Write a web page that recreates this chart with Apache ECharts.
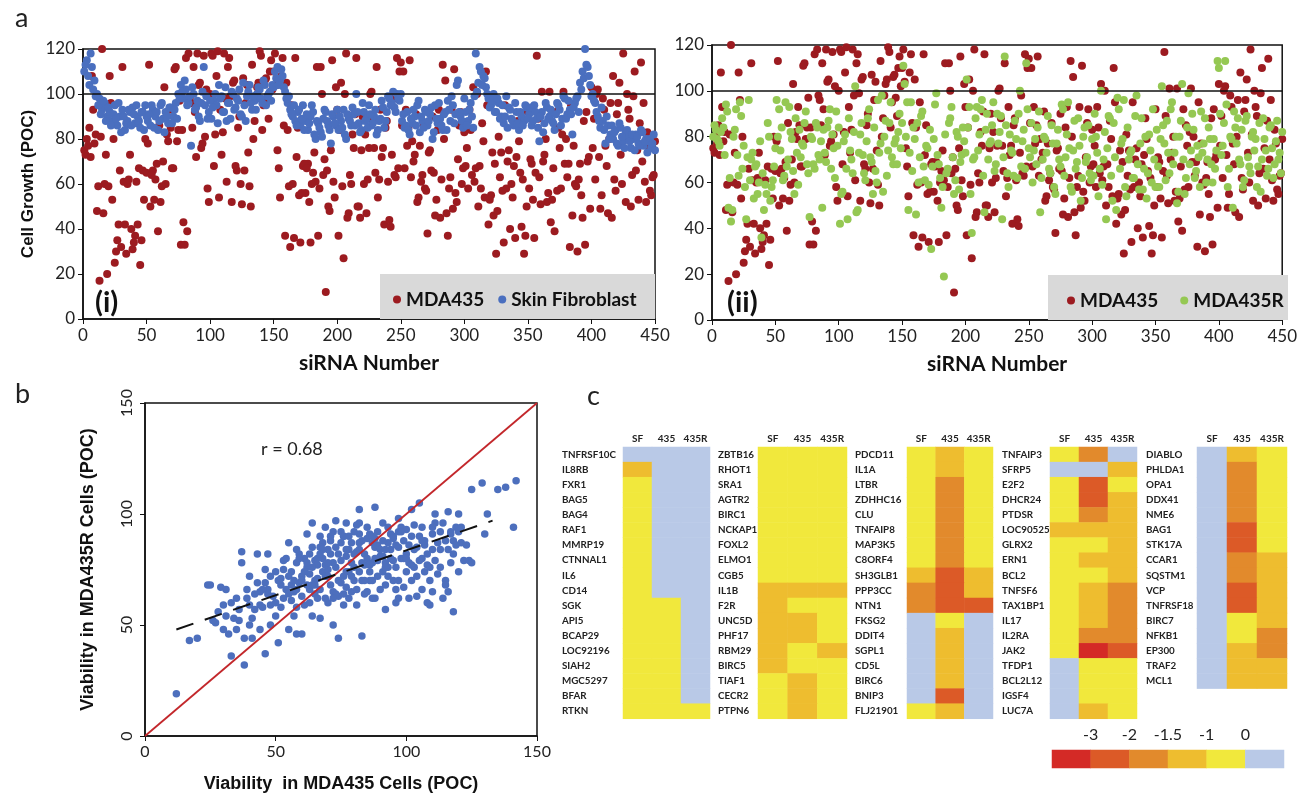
<!DOCTYPE html>
<html>
<head>
<meta charset="utf-8">
<title>siRNA viability screen</title>
<script src="https://cdn.jsdelivr.net/npm/echarts/dist/echarts.min.js"></script>
<style>
  html, body { margin: 0; padding: 0; background: #fff; }
  #chart { width: 1300px; height: 795px; }
</style>
</head>
<body>
<div id="chart"></div>
<script>
// --- panel a: cell growth per siRNA ---
// *Odd arrays hold siRNA 1, 3, 5 ... 449, *Even arrays hold siRNA 2, 4 ... 450
const mda435Odd = [
    75, 80, 85, 108, 78, 48, 17, 120, 60, 20, 108, 53, 25, 35, 66, 112, 42, 60, 73, 31, 37, 42, 24, 66, 80,
    78, 50, 66, 62, 39, 52, 70, 60, 79, 85, 67, 112, 84, 33, 43, 116, 118, 96, 112, 72, 104, 76, 117, 102, 52,
    118, 68, 108, 54, 73, 118, 61, 116, 52, 106, 66, 90, 51, 66, 104, 59, 113, 88, 103, 119, 84, 106, 97, 110, 102,
    118, 75, 54, 116, 37, 84, 32, 60, 116, 85, 34, 68, 56, 69, 34, 65, 61, 37, 112, 64, 12, 50, 75, 61, 103,
    37, 105, 27, 118, 47, 60, 76, 116, 50, 75, 60, 47, 76, 101, 76, 112, 62, 72, 42, 88, 44, 73, 64, 116, 110,
    86, 67, 77, 115, 79, 73, 52, 77, 64, 58, 38, 75, 90, 46, 84, 45, 113, 106, 37, 63, 49, 56, 71, 92, 67,
    68, 58, 84, 103, 67, 50, 58, 79, 110, 42, 55, 46, 29, 81, 74, 34, 58, 75, 60, 68, 72, 79, 41, 29, 50,
    58, 69, 36, 117, 63, 101, 73, 52, 101, 53, 39, 57, 76, 82, 69, 63, 32, 46, 60, 30, 69, 45, 33, 70, 49,
    76, 62, 102, 49, 98, 77, 47, 96, 108, 57, 96, 73, 118, 52, 93, 50, 99, 66, 53, 114, 96, 52, 77, 55, 64
];
const mda435Even = [
    73, 77, 72, 93, 82, 59, 81, 47, 73, 59, 96, 80, 30, 42, 32, 61, 29, 62, 40, 34, 61, 67, 35, 53, 65,
    113, 64, 53, 69, 86, 59, 103, 82, 93, 67, 111, 79, 97, 84, 33, 39, 98, 85, 92, 118, 105, 78, 81, 58, 100,
    117, 82, 119, 93, 83, 98, 112, 99, 105, 68, 85, 60, 107, 96, 74, 50, 80, 98, 105, 117, 95, 107, 89, 115, 110,
    104, 67, 108, 86, 105, 59, 95, 36, 72, 55, 56, 69, 67, 52, 60, 74, 112, 58, 100, 71, 66, 48, 115, 54, 93,
    84, 59, 100, 45, 64, 82, 91, 50, 45, 90, 82, 62, 100, 88, 65, 54, 93, 76, 85, 61, 41, 98, 63, 67, 114,
    110, 93, 85, 63, 70, 91, 54, 61, 86, 57, 74, 66, 65, 53, 93, 62, 80, 47, 58, 93, 111, 52, 86, 60, 83,
    76, 93, 64, 61, 100, 68, 87, 54, 95, 53, 74, 69, 48, 63, 57, 95, 70, 40, 54, 36, 88, 65, 62, 37, 92,
    71, 53, 65, 89, 51, 70, 80, 56, 43, 67, 92, 85, 58, 101, 80, 69, 95, 77, 59, 62, 55, 88, 92, 72, 103,
    89, 100, 72, 55, 93, 68, 80, 45, 62, 91, 105, 60, 81, 100, 89, 64, 110, 75, 87, 70, 61, 83, 57, 63, 79
];
const skinFibroblastOdd = [
    110, 115, 104, 112, 106, 100, 98, 93, 96, 90, 92, 88, 95, 86, 90, 93, 84, 88, 92, 94, 87, 90, 85, 92, 95,
    88, 86, 93, 90, 84, 95, 89, 92, 87, 94, 90, 96, 100, 104, 98, 102, 96, 77, 100, 94, 90, 96, 112, 99, 92,
    89, 97, 95, 104, 99, 92, 88, 96, 101, 93, 98, 102, 90, 95, 99, 104, 93, 97, 100, 102, 96, 104, 99, 101, 104,
    110, 112, 106, 108, 101, 96, 93, 90, 88, 92, 86, 95, 88, 84, 90, 92, 80, 87, 83, 89, 92, 86, 78, 90, 86,
    84, 88, 93, 80, 89, 86, 91, 100, 87, 84, 92, 89, 95, 86, 90, 82, 88, 97, 85, 92, 98, 96, 94, 100, 97,
    88, 85, 92, 82, 87, 90, 95, 83, 88, 93, 86, 91, 80, 95, 87, 89, 84, 92, 97, 88, 95, 91, 106, 90, 85,
    92, 88, 96, 85, 118, 105, 110, 108, 103, 98, 95, 100, 92, 96, 90, 87, 99, 94, 89, 86, 92, 84, 90, 88, 94,
    91, 86, 95, 89, 79, 92, 87, 94, 90, 88, 84, 96, 93, 89, 98, 91, 93, 82, 96, 99, 105, 110, 120, 112, 104,
    100, 96, 90, 85, 88, 78, 86, 82, 80, 84, 77, 85, 79, 83, 81, 76, 80, 82, 78, 84, 77, 80, 79, 76, 82
];
const skinFibroblastEven = [
    113, 108, 118, 102, 99, 95, 91, 97, 88, 94, 86, 91, 89, 96, 83, 90, 87, 93, 86, 91, 95, 88, 92, 84, 90,
    91, 95, 85, 92, 88, 96, 83, 90, 94, 87, 93, 89, 98, 101, 106, 95, 99, 103, 93, 97, 88, 101, 95, 89, 97,
    94, 100, 87, 98, 92, 103, 96, 89, 100, 94, 97, 91, 105, 88, 101, 96, 99, 93, 103, 98, 106, 95, 100, 97, 103,
    107, 104, 111, 103, 98, 99, 91, 95, 86, 93, 89, 84, 91, 87, 95, 82, 88, 85, 81, 93, 88, 84, 91, 87, 93,
    90, 85, 82, 91, 88, 94, 86, 92, 83, 96, 88, 85, 91, 87, 93, 84, 89, 94, 88, 99, 95, 101, 92, 98, 100,
    91, 86, 84, 89, 93, 86, 97, 90, 85, 92, 88, 94, 83, 89, 96, 86, 91, 84, 93, 99, 87, 104, 92, 88, 98,
    86, 93, 90, 99, 101, 112, 104, 107, 100, 94, 97, 92, 98, 89, 95, 90, 85, 93, 88, 96, 87, 92, 86, 95, 89,
    94, 88, 92, 85, 90, 83, 96, 89, 93, 87, 91, 95, 86, 99, 89, 97, 91, 94, 98, 92, 102, 107, 113, 108, 99,
    97, 92, 88, 94, 84, 90, 80, 86, 83, 78, 87, 81, 76, 84, 79, 82, 75, 81, 77, 83, 79, 74, 80, 78, 75
];
const mda435ROdd = [
    80, 83, 78, 82, 84, 94, 49, 43, 80, 92, 63, 89, 76, 44, 96, 70, 53, 68, 60, 36, 48, 55, 80, 58, 67,
    96, 92, 84, 63, 67, 93, 79, 55, 73, 83, 77, 86, 68, 45, 79, 66, 84, 70, 49, 73, 84, 92, 81, 62, 76,
    42, 56, 81, 44, 74, 64, 102, 48, 81, 72, 61, 88, 71, 55, 65, 96, 77, 56, 87, 74, 95, 68, 79, 82, 75,
    111, 80, 48, 95, 84, 46, 60, 89, 67, 76, 59, 31, 79, 99, 68, 49, 19, 64, 86, 93, 55, 82, 57, 72, 78,
    105, 93, 38, 71, 93, 81, 96, 47, 90, 77, 85, 65, 90, 82, 44, 115, 64, 81, 73, 87, 62, 100, 78, 66, 92,
    71, 60, 79, 84, 47, 70, 79, 89, 64, 77, 55, 83, 67, 92, 71, 95, 58, 74, 66, 88, 52, 80, 69, 85, 61,
    63, 80, 54, 100, 70, 44, 89, 63, 86, 48, 92, 77, 96, 54, 70, 74, 62, 98, 57, 88, 66, 53, 81, 60, 70,
    83, 58, 102, 77, 87, 64, 95, 73, 51, 80, 103, 55, 84, 68, 90, 62, 76, 58, 73, 88, 70, 79, 60, 66, 113,
    90, 76, 113, 58, 80, 49, 84, 88, 68, 58, 87, 71, 64, 82, 79, 67, 56, 88, 74, 66, 85, 62, 78, 70, 64
];
const mda435REven = [
    85, 79, 76, 88, 72, 91, 62, 48, 83, 72, 95, 66, 58, 71, 61, 73, 67, 55, 78, 64, 59, 86, 52, 61, 75,
    80, 74, 61, 95, 70, 82, 65, 88, 59, 71, 76, 91, 64, 80, 68, 86, 72, 78, 83, 69, 87, 66, 75, 91, 84,
    55, 78, 66, 88, 70, 82, 47, 73, 86, 64, 78, 92, 69, 84, 60, 73, 98, 80, 63, 86, 71, 77, 68, 90, 86,
    103, 95, 73, 65, 79, 86, 71, 91, 61, 75, 83, 67, 94, 72, 62, 58, 81, 66, 88, 71, 61, 80, 69, 84, 73,
    84, 55, 70, 88, 74, 92, 63, 83, 70, 78, 95, 68, 77, 89, 71, 85, 58, 74, 63, 79, 90, 67, 83, 112, 75,
    86, 74, 68, 91, 62, 80, 73, 66, 85, 58, 77, 70, 94, 63, 81, 75, 56, 87, 69, 76, 62, 84, 71, 64, 79,
    90, 73, 66, 59, 82, 75, 88, 52, 71, 97, 66, 79, 58, 84, 73, 62, 89, 68, 77, 57, 80, 64, 74, 92, 58,
    67, 79, 85, 61, 73, 92, 68, 80, 56, 87, 70, 62, 99, 74, 83, 65, 71, 91, 77, 60, 84, 68, 79, 74, 110,
    72, 86, 94, 66, 79, 91, 77, 70, 83, 61, 89, 67, 80, 74, 58, 86, 70, 79, 63, 84, 75, 68, 87, 73, 82
];
const controlLevel = 100;

// --- panel b: viability MDA435 (x) vs MDA435R (y) ---
const viab435 = [
    12, 17, 20, 24, 25, 27, 29, 30, 30, 32, 33, 31, 34, 35, 35, 37, 37, 38, 38, 39, 40, 41, 41, 43, 44, 44, 46, 47, 46, 48,
    48, 50, 50, 51, 52, 53, 53, 55, 55, 56, 57, 57, 58, 59, 59, 60, 61, 62, 62, 63, 64, 64, 65, 66, 66, 67, 68, 68, 69, 70,
    71, 71, 72, 73, 73, 74, 75, 75, 76, 77, 77, 78, 79, 79, 80, 81, 82, 82, 83, 83, 84, 85, 86, 86, 87, 88, 88, 89, 91, 91,
    92, 93, 94, 95, 95, 96, 97, 98, 100, 100, 101, 102, 102, 103, 104, 105, 106, 106, 107, 108, 109, 109, 110, 111, 111, 112, 113, 114, 115, 115,
    116, 117, 118, 118, 119, 120, 120, 121, 122, 124, 125, 129, 130, 131, 135, 138, 141, 142,
    33, 36, 39, 42, 45, 47, 49, 51, 52, 54, 55, 56, 58, 58, 60, 60, 61, 62, 63, 63, 64, 65, 65, 66, 67, 67, 68, 69, 69, 70,
    70, 71, 72, 72, 73, 74, 74, 75, 76, 76, 77, 78, 78, 79, 80, 80, 81, 81, 82, 83, 84, 84, 85, 85, 86, 87, 87, 88, 89, 89,
    90, 90, 91, 92, 93, 93, 94, 95, 96, 97, 98, 99, 99, 100, 101, 103, 104, 105, 107, 108, 110, 112, 113, 116, 118, 120, 123, 92, 96, 104,
    108, 114, 116, 58, 54, 46, 42, 40, 36, 44, 26, 31, 28, 125, 117, 110, 102, 97, 106,
    45, 48, 50, 53, 56, 59, 61, 63, 65, 67, 69, 71, 73, 75, 77, 79, 81, 83, 85, 87, 89, 91, 93, 95, 97, 99, 101, 103, 105, 107,
    109, 111, 113, 115, 117, 119, 121, 66, 70, 74, 78, 82, 86, 90, 94, 98, 102, 106, 110, 60, 64, 68, 72, 76, 80, 84, 88, 92, 96, 100,
    55, 57, 62, 67, 72, 77, 82, 87, 92, 97, 40, 43, 47, 52, 58, 64, 70, 76, 82, 88
];
const viab435R = [
    19, 43, 44, 68, 68, 51, 67, 59, 48, 46, 36, 54, 53, 62, 48, 83, 78, 32, 44, 66, 59, 53, 44, 82, 65, 59, 37, 82, 69, 59,
    50, 74, 54, 42, 68, 79, 62, 48, 87, 74, 65, 54, 46, 82, 69, 46, 59, 91, 76, 66, 54, 96, 79, 62, 71, 53, 87, 74, 94, 60,
    82, 68, 50, 97, 76, 44, 87, 69, 59, 81, 96, 74, 65, 87, 76, 59, 91, 102, 45, 70, 82, 65, 91, 74, 87, 103, 62, 79, 96, 74,
    68, 87, 91, 79, 70, 66, 85, 94, 74, 82, 62, 102, 90, 76, 85, 105, 66, 94, 74, 82, 59, 70, 91, 100, 79, 87, 76, 96, 70, 68,
    101, 91, 56, 82, 94, 74, 100, 87, 79, 79, 111, 114, 91, 100, 111, 112, 94, 115,
    60, 57, 62, 64, 58, 66, 63, 70, 58, 66, 72, 61, 78, 66, 72, 63, 80, 68, 73, 60, 85, 70, 64, 77, 66, 90, 80, 62, 72, 84,
    75, 90, 78, 65, 85, 70, 63, 79, 90, 72, 67, 84, 62, 78, 70, 92, 83, 66, 74, 88, 77, 64, 80, 94, 70, 78, 62, 85, 72, 92,
    81, 66, 88, 78, 94, 72, 84, 90, 76, 70, 80, 88, 67, 93, 78, 84, 72, 90, 86, 77, 84, 73, 92, 84, 88, 92, 86, 57, 60, 63,
    60, 62, 65, 84, 80, 75, 57, 50, 52, 48, 52, 66, 56, 78, 78, 65, 70, 62, 80,
    66, 72, 60, 75, 68, 80, 74, 82, 68, 85, 77, 88, 64, 92, 84, 72, 95, 78, 89, 70, 86, 81, 76, 89, 92, 80, 86, 95, 79, 88,
    76, 96, 84, 88, 92, 86, 94, 80, 72, 82, 90, 84, 77, 84, 80, 92, 77, 88, 94, 70, 76, 84, 62, 90, 82, 70, 89, 76, 86, 80,
    64, 70, 78, 82, 92, 74, 87, 90, 84, 98, 72, 69, 64, 71, 58, 68, 78, 64, 96, 80
];
const identityLine = [0, 150];
const fitX = [12, 133];
const fitY = [48, 97];

// --- panel c: heat map classes, 0 = below -3 ... 4 = -1 to 0, 5 = above 0 ---
const cellLines = ['SF', '435', '435R'];
const block1Genes = ['TNFRSF10C', 'IL8RB', 'FXR1', 'BAG5', 'BAG4', 'RAF1', 'MMRP19', 'CTNNAL1', 'IL6', 'CD14', 'SGK', 'API5', 'BCAP29', 'LOC92196', 'SIAH2', 'MGC5297', 'BFAR', 'RTKN'];
const block1Levels = [[5, 5, 5], [3, 5, 5], [4, 5, 5], [4, 5, 5], [4, 5, 5], [4, 5, 5], [4, 5, 5], [4, 5, 5], [4, 5, 5], [4, 5, 5],
    [4, 4, 5], [4, 4, 5], [4, 4, 5], [4, 4, 5], [4, 4, 5], [4, 4, 5], [4, 4, 5], [4, 4, 4]];
const block2Genes = ['ZBTB16', 'RHOT1', 'SRA1', 'AGTR2', 'BIRC1', 'NCKAP1', 'FOXL2', 'ELMO1', 'CGB5', 'IL1B', 'F2R', 'UNC5D', 'PHF17', 'RBM29', 'BIRC5', 'TIAF1', 'CECR2', 'PTPN6'];
const block2Levels = [[4, 4, 4], [4, 4, 4], [4, 4, 4], [4, 4, 4], [4, 4, 4], [4, 4, 4], [4, 4, 4], [4, 4, 4], [4, 4, 4],
    [3, 3, 3], [3, 4, 4], [3, 3, 4], [3, 3, 4], [3, 4, 3], [3, 4, 4], [4, 3, 4], [4, 3, 4], [4, 3, 4]];
const block3Genes = ['PDCD11', 'IL1A', 'LTBR', 'ZDHHC16', 'CLU', 'TNFAIP8', 'MAP3K5', 'C8ORF4', 'SH3GLB1', 'PPP3CC', 'NTN1', 'FKSG2', 'DDIT4', 'SGPL1', 'CD5L', 'BIRC6', 'BNIP3', 'FLJ21901'];
const block3Levels = [[4, 3, 4], [4, 3, 4], [4, 2, 4], [4, 2, 4], [4, 2, 4], [4, 2, 4], [4, 2, 4], [4, 2, 4], [3, 1, 3],
    [2, 1, 3], [2, 1, 1], [5, 4, 5], [5, 3, 5], [5, 3, 5], [5, 3, 5], [5, 3, 5], [5, 1, 5], [4, 3, 5]];
const block4Genes = ['TNFAIP3', 'SFRP5', 'E2F2', 'DHCR24', 'PTDSR', 'LOC90525', 'GLRX2', 'ERN1', 'BCL2', 'TNFSF6', 'TAX1BP1', 'IL17', 'IL2RA', 'JAK2', 'TFDP1', 'BCL2L12', 'IGSF4', 'LUC7A'];
const block4Levels = [[4, 2, 5], [5, 5, 3], [4, 1, 4], [4, 1, 3], [4, 2, 3], [3, 3, 3], [4, 4, 3], [4, 3, 3], [4, 4, 3],
    [4, 3, 2], [4, 3, 2], [4, 3, 2], [4, 2, 2], [4, 0, 1], [5, 4, 4], [5, 4, 4], [5, 4, 4], [5, 3, 4]];
const block5Genes = ['DIABLO', 'PHLDA1', 'OPA1', 'DDX41', 'NME6', 'BAG1', 'STK17A', 'CCAR1', 'SQSTM1', 'VCP', 'TNFRSF18', 'BIRC7', 'NFKB1', 'EP300', 'TRAF2', 'MCL1'];
const block5Levels = [[5, 3, 4], [5, 2, 4], [5, 2, 4], [5, 2, 4], [5, 2, 4], [5, 1, 4], [5, 1, 4], [5, 2, 3], [5, 2, 3],
    [5, 1, 3], [5, 1, 3], [5, 4, 3], [5, 4, 2], [5, 3, 2], [5, 3, 3], [5, 3, 3]];
const legendLevels = [0, 1, 2, 3, 4, 5];
const legendTickLabels = ['', '-3', '-2', '-1.5', '-1', '0', ''];

const levelColors = ['#d42a26', '#dc5a27', '#e28a2c', '#eebd2f', '#f1e83c', '#b9c9e7'];
const FONT = 'Lato, "Open Sans", sans-serif';
const ARIAL = '"Liberation Sans", Arial, sans-serif';

const chart = echarts.init(document.getElementById('chart'));

// pair each value with its siRNA number
function withSiRNA(odd, even) {
    const pts = [];
    odd.forEach((v, i) => pts.push([1 + 2 * i, v]));
    even.forEach((v, i) => pts.push([2 + 2 * i, v]));
    return pts;
}

function screenAxes(gridIndex, showName) {
    const x = {
        type: 'value', gridIndex: gridIndex, min: 0, max: 450, interval: 50,
        name: 'siRNA Number', nameLocation: 'middle', nameGap: 34,
        nameTextStyle: { fontFamily: FONT, fontSize: 21, fontWeight: 'bold', color: '#111' },
        axisLine: { lineStyle: { color: '#111', width: 1.5 } },
        axisTick: { length: 5, lineStyle: { color: '#111' } },
        axisLabel: { fontFamily: FONT, fontSize: 17, color: '#222', margin: 8 },
        splitLine: { show: false }
    };
    const y = {
        type: 'value', gridIndex: gridIndex, min: 0, max: 120, interval: 20,
        axisLine: { show: true, lineStyle: { color: '#111', width: 1.5 } },
        axisTick: { show: true, length: 5, lineStyle: { color: '#111' } },
        axisLabel: { fontFamily: FONT, fontSize: 17, color: '#222', margin: 8 },
        splitLine: { show: false }
    };
    if (showName) {
        y.name = 'Cell Growth (POC)';
        y.nameLocation = 'middle';
        y.nameGap = 46;
        y.nameTextStyle = { fontFamily: ARIAL, fontSize: 17, fontWeight: 'bold', color: '#111' };
    }
    return [x, y];
}

const heatBlocks = [
    { genes: block1Genes, levels: block1Levels, left: 623, width: 87, labelX: 562 },
    { genes: block2Genes, levels: block2Levels, left: 758, width: 89, labelX: 718 },
    { genes: block3Genes, levels: block3Levels, left: 907, width: 86, labelX: 855 },
    { genes: block4Genes, levels: block4Levels, left: 1050, width: 87, labelX: 1002 },
    { genes: block5Genes, levels: block5Levels, left: 1197, width: 90, labelX: 1146 }
];
const ROW_H = 15.1;

const grids = [
    { left: 83, top: 49, width: 572, height: 270, show: true, borderColor: '#111', borderWidth: 1.5 },
    { left: 712, top: 45, width: 576, height: 275, show: true, borderColor: '#111', borderWidth: 1.5 },
    { left: 145, top: 403, width: 392, height: 333, show: true, borderColor: '#111', borderWidth: 1.5 }
];
const [ax0, ay0] = screenAxes(0, true);
const [ax1, ay1] = screenAxes(1, false);
const xAxes = [ax0, ax1, {
    type: 'value', gridIndex: 2, min: 0, max: 150, interval: 50,
    name: 'Viability  in MDA435 Cells (POC)', nameLocation: 'middle', nameGap: 39,
    nameTextStyle: { fontFamily: ARIAL, fontSize: 18, fontWeight: 'bold', color: '#111' },
    axisLine: { lineStyle: { color: '#111', width: 1.5 } },
    axisTick: { length: 5, lineStyle: { color: '#111' } },
    axisLabel: { fontFamily: FONT, fontSize: 16, color: '#222', margin: 8 },
    splitLine: { show: false }
}];
const yAxes = [ay0, ay1, {
    type: 'value', gridIndex: 2, min: 0, max: 150, interval: 50,
    name: 'Viability in MDA435R Cells (POC)', nameLocation: 'middle', nameGap: 48,
    nameTextStyle: { fontFamily: ARIAL, fontSize: 18, fontWeight: 'bold', color: '#111' },
    axisLine: { show: true, lineStyle: { color: '#111', width: 1.5 } },
    axisTick: { show: true, length: 5, lineStyle: { color: '#111' } },
    axisLabel: { fontFamily: FONT, fontSize: 16, color: '#222', rotate: 90, margin: 10 },
    splitLine: { show: false }
}];

const RED = '#9c1b20';
const series = [
    {
        name: 'MDA435', type: 'scatter', xAxisIndex: 0, yAxisIndex: 0, data: withSiRNA(mda435Odd, mda435Even),
        symbolSize: 8, itemStyle: { color: RED, opacity: 1 },
        markLine: {
            silent: true, symbol: 'none', label: { show: false },
            lineStyle: { color: '#111', width: 1.5, type: 'solid' }, data: [{ yAxis: controlLevel }]
        }
    },
    {
        name: 'Skin Fibroblast', type: 'scatter', xAxisIndex: 0, yAxisIndex: 0,
        data: withSiRNA(skinFibroblastOdd, skinFibroblastEven), symbolSize: 8, itemStyle: { color: '#4a6fbf', opacity: 1 }
    },
    {
        name: 'MDA435', type: 'scatter', xAxisIndex: 1, yAxisIndex: 1, data: withSiRNA(mda435Odd, mda435Even),
        symbolSize: 8, itemStyle: { color: RED, opacity: 1 },
        markLine: {
            silent: true, symbol: 'none', label: { show: false },
            lineStyle: { color: '#111', width: 1.5, type: 'solid' }, data: [{ yAxis: controlLevel }]
        }
    },
    {
        name: 'MDA435R', type: 'scatter', xAxisIndex: 1, yAxisIndex: 1,
        data: withSiRNA(mda435ROdd, mda435REven), symbolSize: 8, itemStyle: { color: '#95c853', opacity: 1 }
    },
    {
        type: 'scatter', xAxisIndex: 2, yAxisIndex: 2, symbolSize: 7.5,
        data: viab435.map((v, i) => [v, viab435R[i]]), itemStyle: { color: '#4d6fbd', opacity: 1 }
    },
    {
        type: 'line', xAxisIndex: 2, yAxisIndex: 2, symbol: 'none', silent: true, z: 3,
        data: identityLine.map(v => [v, v]), lineStyle: { color: '#c3272b', width: 1.8 }
    },
    {
        type: 'line', xAxisIndex: 2, yAxisIndex: 2, symbol: 'none', silent: true, z: 3,
        data: fitX.map((v, i) => [v, fitY[i]]), lineStyle: { color: '#111', width: 2, type: [18, 12] }
    }
];

const heatSeriesIdx = [];
heatBlocks.forEach((b, k) => {
    const g = 3 + k;
    grids.push({ left: b.left, top: 447, width: b.width, height: b.genes.length * ROW_H });
    xAxes.push({
        type: 'category', gridIndex: g, data: cellLines, position: 'top',
        axisLine: { show: false }, axisTick: { show: false },
        axisLabel: { interval: 0, fontFamily: FONT, fontSize: 10, fontWeight: 'bold', color: '#222', margin: 3 }
    });
    yAxes.push({
        type: 'category', gridIndex: g, data: b.genes, inverse: true,
        axisLine: { show: false }, axisTick: { show: false },
        axisLabel: { interval: 0, fontFamily: FONT, fontSize: 9.8, fontWeight: 'bold', color: '#222', align: 'left', margin: b.left - b.labelX }
    });
    const data = [];
    b.levels.forEach((row, r) => row.forEach((lv, c) => data.push([c, r, lv])));
    heatSeriesIdx.push(series.length);
    series.push({ type: 'heatmap', xAxisIndex: g, yAxisIndex: g, data: data, silent: true });
});

// colour key below the heat maps
grids.push({ left: 1052, top: 750, width: 232, height: 18 });
xAxes.push({ type: 'category', gridIndex: 8, data: legendLevels.map(String), show: false });
xAxes.push({
    type: 'value', gridIndex: 8, min: 0, max: 6, interval: 1, position: 'top',
    axisLine: { show: false }, axisTick: { show: false }, splitLine: { show: false },
    axisLabel: { fontFamily: FONT, fontSize: 16, color: '#222', margin: 7, formatter: v => legendTickLabels[v] }
});
yAxes.push({ type: 'category', gridIndex: 8, data: [''], show: false });
heatSeriesIdx.push(series.length);
series.push({
    type: 'heatmap', xAxisIndex: 8, yAxisIndex: 8, silent: true,
    data: legendLevels.map((lv, i) => [i, 0, lv])
});

const legendText = { fontFamily: FONT, fontSize: 19, fontWeight: 'bold', color: '#111' };

const option = {
    animation: false,
    backgroundColor: '#fff',
    textStyle: { fontFamily: FONT },
    title: [
        { text: 'a', left: 10, top: 0, textStyle: { fontFamily: FONT, fontSize: 27, fontWeight: 'normal', color: '#222' } },
        { text: 'b', left: 10, top: 376, textStyle: { fontFamily: FONT, fontSize: 27, fontWeight: 'normal', color: '#222' } },
        { text: 'c', left: 582, top: 378, textStyle: { fontFamily: FONT, fontSize: 27, fontWeight: 'normal', color: '#222' } },
        { text: '(i)', left: 90, top: 283, textStyle: { fontFamily: FONT, fontSize: 29, fontWeight: 'bold', color: '#111' } },
        { text: '(ii)', left: 722, top: 283, textStyle: { fontFamily: FONT, fontSize: 29, fontWeight: 'bold', color: '#111' } },
        { text: 'r = 0.68', left: 256, top: 435, textStyle: { fontFamily: FONT, fontSize: 18, fontWeight: 'normal', color: '#222' } }
    ],
    graphic: [
        { type: 'rect', shape: { x: 380, y: 274, width: 275, height: 45 }, style: { fill: '#d9d9d9' }, z: 1 },
        { type: 'rect', shape: { x: 1048, y: 275, width: 240, height: 45 }, style: { fill: '#d9d9d9' }, z: 1 }
    ],
    legend: [
        {
            data: ['MDA435', 'Skin Fibroblast'], left: 388, top: 285, icon: 'circle',
            itemWidth: 8, itemHeight: 8, itemGap: 14, textStyle: legendText, selectedMode: false
        },
        {
            data: ['MDA435', 'MDA435R'], left: 1062, top: 286, icon: 'circle',
            itemWidth: 8, itemHeight: 8, itemGap: 22, textStyle: legendText, selectedMode: false
        }
    ],
    visualMap: {
        type: 'piecewise', show: false, dimension: 2, seriesIndex: heatSeriesIdx,
        pieces: levelColors.map((c, v) => ({ value: v, color: c }))
    },
    grid: grids,
    xAxis: xAxes,
    yAxis: yAxes,
    series: series
};

chart.setOption(option);
</script>
</body>
</html>
